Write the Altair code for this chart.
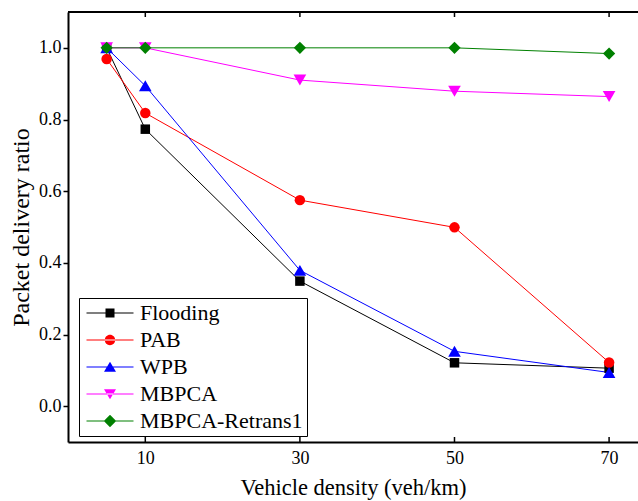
import altair as alt
import pandas as pd

series = ["Flooding", "PAB", "WPB", "MBPCA", "MBPCA-Retrans1"]
density = [5, 10, 30, 50, 70]
flooding = [1.0, 0.773, 0.349, 0.121, 0.106]
pab = [0.969, 0.818, 0.575, 0.499, 0.122]
wpb = [1.0, 0.894, 0.379, 0.153, 0.094]
mbpca = [1.0, 1.0, 0.910, 0.879, 0.864]
retrans = [1.0, 1.0, 1.0, 1.0, 0.984]
colors = ["#000000", "#ff0000", "#0000ff", "#ff00ff", "#008000"]
shapes = ["square", "circle", "triangle-up", "triangle-down", "diamond"]
LINE = "M-0.75,-0.06H3.95V0.06H-0.75Z"
legend_paths = [
    LINE + "M1.15,-0.45H2.05V0.45H1.15Z",
    LINE + "M1.08,0A0.52,0.52,0,1,0,2.12,0A0.52,0.52,0,1,0,1.08,0Z",
    LINE + "M1.6,-0.52L2.2,0.48L1.0,0.48Z",
    LINE + "M1.6,0.52L2.2,-0.48L1.0,-0.48Z",
    LINE + "M1.6,-0.62L2.22,0L1.6,0.62L0.98,0Z",
]
marker_sizes = [90, 110, 160, 160, 150]
x_ticks = [10, 30, 50, 70]
y_ticks = [0.0, 0.2, 0.4, 0.6, 0.8, 1.0]

values = [flooding, pab, wpb, mbpca, retrans]
rows = []
for s, vals in zip(series, values):
    for x, v in zip(density, vals):
        rows.append({"series": s, "density": x, "ratio": v})
df = pd.DataFrame(rows)
ticks_df = pd.DataFrame({"t": x_ticks})

FONT = "Liberation Serif"
W, H = 570, 430

xs = alt.Scale(domain=[0, 73.74], nice=False, zero=False)
ys = alt.Scale(domain=[-0.1, 1.1], nice=False, zero=False)

x_enc = alt.X("density:Q", scale=xs,
              axis=alt.Axis(values=x_ticks, ticks=False, title="Vehicle density (veh/km)",
                            labelFont=FONT, titleFont=FONT,
                            labelFontSize=18, titleFontSize=22.5, labelPadding=7,
                            titlePadding=9, domainWidth=2, domainColor="black",
                            grid=False, labelFlush=False))
y_enc = alt.Y("ratio:Q", scale=ys,
              axis=alt.Axis(values=y_ticks, format=".1f", title="Packet delivery ratio",
                            labelFont=FONT, titleFont=FONT,
                            labelFontSize=18, titleFontSize=24, tickSize=5, tickWidth=1.5,
                            tickColor="black", labelPadding=2, titlePadding=5,
                            domainWidth=2, domainColor="black", grid=False))

layers = []
for i, (s, c) in enumerate(zip(series, colors)):
    base = alt.Chart(df).transform_filter(alt.datum.series == s)
    if i == 0:
        ln = base.mark_line(strokeWidth=1, color=c).encode(x=x_enc, y=y_enc)
    else:
        ln = base.mark_line(strokeWidth=1, color=c).encode(
            x=alt.X("density:Q", scale=xs), y=alt.Y("ratio:Q", scale=ys))
    layers.append(ln)
for s, c, sh, sz in zip(series, colors, shapes, marker_sizes):
    base = alt.Chart(df).transform_filter(alt.datum.series == s)
    pt = base.mark_point(filled=True, opacity=1, color=c, shape=sh, size=sz).encode(
        x=alt.X("density:Q", scale=xs), y=alt.Y("ratio:Q", scale=ys))
    layers.append(pt)

leg = alt.Legend(orient="none", legendX=11, legendY=286, title=None,
                 fillColor="white", strokeColor="black", padding=4,
                 labelFont=FONT, labelFontSize=22, labelColor="black",
                 symbolSize=400, symbolStrokeWidth=0, rowPadding=5,
                 labelOffset=35, labelLimit=400)

legend_layer = alt.Chart(df).transform_filter("datum.density > 1000").mark_point(
    filled=True, opacity=1, size=400).encode(
    x=alt.X("density:Q", scale=xs), y=alt.Y("ratio:Q", scale=ys),
    color=alt.Color("series:N", scale=alt.Scale(domain=series, range=colors), legend=leg),
    shape=alt.Shape("series:N", scale=alt.Scale(domain=series, range=legend_paths), legend=leg),
)
layers.append(legend_layer)

top_line = alt.Chart(ticks_df).mark_rule(color="black", strokeWidth=2).encode(
    x=alt.value(0), x2=alt.value(W), y=alt.value(0))
top_ticks = alt.Chart(ticks_df).mark_rule(color="black", strokeWidth=1.5).encode(
    x=alt.X("t:Q", scale=xs), y=alt.value(0), y2=alt.value(5))
bottom_ticks = alt.Chart(ticks_df).mark_rule(color="black", strokeWidth=1.5).encode(
    x=alt.X("t:Q", scale=xs), y=alt.value(H), y2=alt.value(H - 5))
layers += [top_line, top_ticks, bottom_ticks]

chart = alt.layer(*layers).properties(
    width=W, height=H,
    padding={"left": 68, "top": 12, "right": 0, "bottom": 59},
    autosize=alt.AutoSizeParams(type="none"),
    background="white",
).configure(font=FONT).configure_view(stroke=None).configure_axis(
    labelFont=FONT, titleFont=FONT, labelColor="black", titleColor="black",
    titleFontWeight="normal",
).configure_legend(labelFont=FONT)

chart.save("out.html", embed_options={"renderer": "svg", "actions": False})
